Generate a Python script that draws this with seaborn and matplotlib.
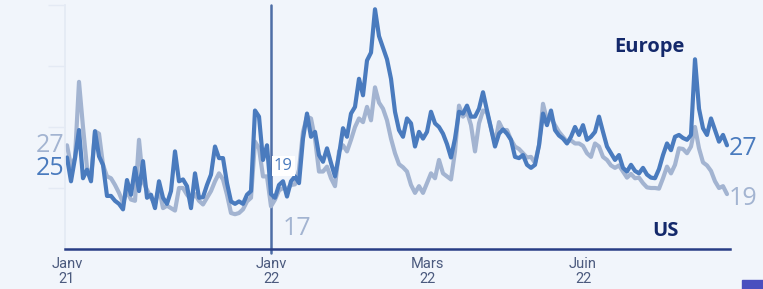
import numpy as np
import pandas as pd
import matplotlib.pyplot as plt
from matplotlib.patches import Rectangle
import seaborn as sns

# weekly-ish readings, same index for both series
europe = [25.0, 21.1, 24.9, 29.5, 21.6, 23.0, 21.1, 29.3, 25.2, 23.8, 18.7, 18.7, 17.9, 17.4, 16.5, 21.3,
          18.9, 23.3, 19.5, 24.4, 18.4, 18.9, 16.7, 21.1, 18.4, 17.4,
          19.5, 26.0, 21.1, 21.4, 20.3, 16.7, 22.4, 18.4, 18.5, 20.5, 22.2, 26.8, 24.9, 24.9, 20.8, 17.8,
          17.4, 17.8, 17.4, 18.9, 19.5, 32.7, 31.7, 24.6, 27.0, 19.0,
          18.4, 20.5, 21.1, 18.6, 21.1, 21.9, 20.8, 28.1, 32.2, 28.4, 29.2, 25.4, 24.3, 26.5, 24.1, 21.9,
          25.4, 29.8, 28.4, 32.2, 33.3, 37.9, 35.2, 40.9, 42.2, 49.3, 44.9, 43.0, 41.1,
          37.9, 32.5, 29.5, 28.4, 31.4, 30.6, 26.8, 29.2, 28.1, 29.2, 32.5, 30.6, 30.0, 28.9, 27.2, 25.0,
          28.1, 32.5, 32.2, 33.5, 31.7, 31.7, 33.0, 35.7, 32.7, 29.8, 26.8, 28.9,
          29.6, 28.9, 27.9, 25.1, 24.9, 25.4, 23.8, 23.3, 23.8, 27.0, 32.2, 30.3, 32.7, 29.5, 28.6, 28.1,
          27.3, 28.4, 30.0, 28.7, 30.3, 27.9, 28.4, 29.2, 31.7, 29.2, 26.8, 25.7, 24.6,
          25.4, 23.3, 22.7, 23.8, 22.8, 22.4, 23.3, 22.2, 21.7, 21.6, 23.1, 25.4, 27.3, 26.2, 28.4, 28.7,
          28.2, 27.9, 28.7, 41.1, 33.0, 29.8, 28.7, 31.4, 29.5, 27.6, 28.7, 27.0]

us = [27.0, 23.6, 24.9, 37.4, 30.0, 23.3, 21.6, 29.3, 28.9, 23.8, 21.9, 21.6, 20.5, 19.2, 17.6, 19.5,
      18.1, 17.9, 27.9, 21.1, 19.7, 18.4, 17.4, 20.0, 16.7, 17.1,
      16.7, 16.3, 20.0, 20.0, 18.9, 18.1, 19.0, 17.9, 17.3, 18.4, 19.5, 21.1, 22.4, 21.4, 18.9, 15.9,
      15.7, 15.9, 16.5, 17.8, 18.4, 27.6, 26.5, 21.9, 21.9, 17.0,
      18.1, 19.6, 20.0, 19.8, 20.5, 20.6, 23.0, 29.2, 31.7, 31.4, 28.1, 22.7, 22.7, 23.5, 21.6, 20.3,
      26.0, 27.0, 26.0, 27.9, 30.0, 31.4, 30.8, 33.3, 31.1, 36.5, 34.0, 33.0, 31.1,
      28.1, 25.7, 23.9, 23.4, 22.7, 20.5, 19.2, 20.3, 19.2, 20.8, 22.4, 21.6, 24.6, 22.4, 21.9, 21.4,
      26.0, 33.5, 31.7, 32.5, 30.3, 26.0, 30.6, 32.7, 32.4, 29.8, 27.3, 30.8,
      29.5, 29.5, 27.9, 26.8, 26.4, 25.7, 25.0, 25.1, 24.1, 27.0, 33.8, 31.1, 31.4, 30.3, 29.2, 28.4,
      27.6, 27.8, 27.3, 27.3, 26.9, 25.7, 25.1, 27.3, 26.8, 25.1, 24.6, 23.7, 23.3,
      23.7, 22.7, 21.7, 22.3, 21.6, 21.7, 20.8, 20.1, 20.0, 20.0, 19.9, 21.6, 23.5, 22.4, 23.8, 26.5,
      26.4, 25.7, 26.8, 30.0, 26.5, 24.2, 23.7, 22.8, 21.1, 20.0, 20.3, 19.0]

tick_pos = [0, 51, 90, 129]
tick_labels = ["Janv\n21", "Janv\n22", "Mars\n22", "Juin\n22"]
marker_idx = 51  # Janv 22

df = pd.DataFrame({"t": np.arange(len(europe)), "Europe": europe, "US": us})

sns.set_theme(style="white")
plt.rcParams["font.family"] = ["Open Sans", "DejaVu Sans"]

bg = "#F1F5FB"
dark = "#4A7BBE"
light = "#A3B4D1"
navy = "#14296B"

fig = plt.figure(figsize=(7.63, 2.89), dpi=100, facecolor=bg)
ax = fig.add_axes([65 / 763, 40 / 289, 665 / 763, 244 / 289])
ax.set_facecolor(bg)

sns.lineplot(data=df, x="t", y="US", color=light, lw=3, ax=ax)
sns.lineplot(data=df, x="t", y="Europe", color=dark, lw=3, ax=ax)

ax.axvline(marker_idx, ymin=-0.015, ymax=1, color="#4E6EA6", lw=1.8, clip_on=False, zorder=1)

ax.set_xlim(-0.5, 165.75)
ax.set_ylim(10, 50)
ax.set_xlabel("")
ax.set_ylabel("")

ax.set_xticks(tick_pos, tick_labels)
ax.set_yticks([20, 30, 40, 50], ["", "", "", ""])
ax.tick_params(axis="x", length=0, pad=6, labelsize=10.5, labelcolor="#4B5A7E")
ax.tick_params(axis="y", length=12, width=1, color="#E4EAF4", left=True)
for lab in ax.get_xticklabels():
    lab.set_family(["Roboto", "DejaVu Sans"])
    lab.set_linespacing(1.05)

for s in ["top", "right"]:
    ax.spines[s].set_visible(False)
ax.spines["left"].set_color("#E4EAF4")
ax.spines["bottom"].set_color("#283D85")
ax.spines["bottom"].set_linewidth(1.8)

# value labels
ax.annotate("27", xy=(0, us[0]), xytext=(-3, 0), textcoords="offset pixels",
            ha="right", va="center", fontsize=18, color=light, annotation_clip=False)
ax.annotate("25", xy=(0, europe[0]), xytext=(-3, -11), textcoords="offset pixels",
            ha="right", va="center", fontsize=18, color=dark, annotation_clip=False)
ax.annotate("19", xy=(marker_idx, europe[marker_idx]), xytext=(3, 28), textcoords="offset pixels",
            ha="left", va="center", fontsize=12, color=dark,
            bbox=dict(boxstyle="square,pad=0.12", fc="white", ec="none"))
ax.annotate("17", xy=(marker_idx, us[marker_idx]), xytext=(12, -22), textcoords="offset pixels",
            ha="left", va="center", fontsize=18, color=light)
ax.annotate("27", xy=(len(europe) - 1, europe[-1]), xytext=(2, -3), textcoords="offset pixels",
            ha="left", va="center", fontsize=18, color=dark, annotation_clip=False)
ax.annotate("19", xy=(len(us) - 1, us[-1]), xytext=(2, -4), textcoords="offset pixels",
            ha="left", va="center", fontsize=18, color=light, annotation_clip=False)

ax.text(145.5, 43.1, "Europe", ha="center", va="center", fontsize=14.5, fontweight="bold", color=navy)
ax.text(149.5, 12.9, "US", ha="center", va="center", fontsize=14.5, fontweight="bold", color=navy)

fig.patches.append(Rectangle((742 / 763, 0), 21 / 763, 9 / 289, transform=fig.transFigure,
                             color="#4A4FBF", zorder=5))

fig.savefig("out.png", dpi=100, facecolor=bg)
